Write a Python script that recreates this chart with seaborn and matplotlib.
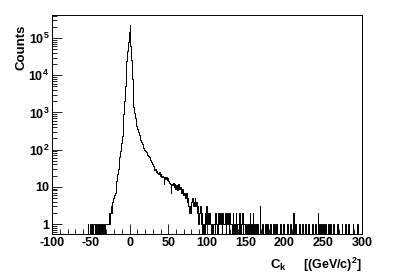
import numpy as np
import pandas as pd
import seaborn as sns
import matplotlib
matplotlib.use("Agg")
import matplotlib.pyplot as plt
from matplotlib.ticker import FixedLocator, MultipleLocator, LogLocator, NullFormatter

# 데이터: 1 단위 bin, 왼쪽 경계 기준 (C_k)
left_bins = [-54, -51, -49, -47, -46, -44, -42, -40, -38, -36, -34, -32, -31, -30]
left_counts = [1] * len(left_bins)

core_start = -29   # 이 값부터 1씩 증가하는 bin
core_counts = [
    1, 1, 2, 1, 2, 3, 2, 4, 5, 6,                     # -29 .. -20
    7, 11, 14, 22, 30, 42, 65, 95, 150, 240,          # -19 .. -10
    420, 900, 2100, 5000, 11000, 24000, 45000, 80000, 150000, 220000,  # -9 .. 0
    60000, 25000, 8000, 2500, 1400, 950, 700, 540, 440, 360,           # 1 .. 10
    300, 250, 210, 180, 160, 140, 125, 110, 100, 92,  # 11 .. 20
    85, 78, 72, 66, 62, 58, 52, 46, 40, 36,           # 21 .. 30
    32, 28, 30, 25, 27, 24, 22, 25, 20, 22,           # 31 .. 40
    19, 20, 18, 12, 19, 16, 18, 15, 17, 14,           # 41 .. 50
    13, 12, 7, 12, 11, 13, 10, 12, 9, 11,             # 51 .. 60
    8, 10, 12, 9, 10, 8, 7, 9, 6, 7,                  # 61 .. 70
    6, 5, 7, 4, 5, 3, 2, 3, 2, 4,                     # 71 .. 80
    5, 3, 4, 5, 3, 4, 2, 3, 1, 2,                     # 81 .. 90
    3, 1, 2, 0, 1, 0, 2, 1, 3, 1,                     # 91 .. 100
    2, 1, 2, 1, 0, 1, 0, 1, 1, 0,                     # 101 .. 110
    2, 1, 0, 2, 1, 2, 1, 2, 0, 2,                     # 111 .. 120
    1, 1, 2, 0, 1, 2, 1, 0, 2, 1,                     # 121 .. 130
    1, 0, 2, 1, 0, 1, 2, 0, 1, 1,                     # 131 .. 140
    0, 2, 0, 1, 2,                                    # 141 .. 145
]

tail_bins = [147, 148, 151, 153, 155, 156, 158, 159, 161, 163, 165, 168, 171, 175,
             178, 182, 185, 188, 190, 194, 198, 203, 204, 207, 211, 214, 219, 223,
             227, 231, 236, 240, 243, 245, 247, 250, 253, 256, 259, 263, 268, 274,
             278, 282, 288, 294]
tail_counts = [1, 1, 1, 1, 2, 1, 1, 2, 1, 1, 1, 3, 1, 1,
               1, 1, 1, 1, 1, 1, 1, 1, 1, 1, 2, 1, 1, 1,
               1, 1, 1, 1, 2, 1, 1, 1, 1, 1, 1, 1, 1, 1,
               1, 1, 1, 1]

# bin 표 만들기
edges = np.arange(-100, 301, 1)
counts = np.zeros(len(edges) - 1)
for b, c in zip(left_bins, left_counts):
    counts[b + 100] = c
for i, c in enumerate(core_counts):
    counts[core_start + i + 100] = c
for b, c in zip(tail_bins, tail_counts):
    counts[b + 100] = c
df = pd.DataFrame({'ck': edges[:-1] + 0.5, 'n': counts})

plt.rcParams['font.family'] = ['Liberation Sans', 'DejaVu Sans']
plt.rcParams['font.weight'] = 'bold'
plt.rcParams['axes.unicode_minus'] = False
plt.rcParams['mathtext.fontset'] = 'custom'
plt.rcParams['mathtext.rm'] = 'Liberation Sans:bold'
plt.rcParams['mathtext.bf'] = 'Liberation Sans:bold'
plt.rcParams['mathtext.it'] = 'Liberation Sans:bold'

fig = plt.figure(figsize=(4.07, 2.76), dpi=100)
ax = fig.add_axes([0.128, 0.152, 0.761, 0.794])
sns.histplot(data=df, x='ck', weights='n', binwidth=1, binrange=(-100, 300),
             element='step', fill=False, color='black', linewidth=0.7, ax=ax)
ax.set_yscale('log')
ax.set_xlim(-100, 300)
ax.set_ylim(0.54, 4.2e5)

# ROOT 스타일 눈금
ax.xaxis.set_major_locator(MultipleLocator(50))
ax.xaxis.set_minor_locator(MultipleLocator(10))
ax.yaxis.set_major_locator(FixedLocator([1, 10, 100, 1e3, 1e4, 1e5]))
ax.yaxis.set_minor_locator(LogLocator(base=10, subs=np.arange(2, 10), numticks=20))
ax.yaxis.set_minor_formatter(NullFormatter())
ax.set_yticklabels(['1', '10', r'$10^{2}$', r'$10^{3}$', r'$10^{4}$', r'$10^{5}$'])
ax.tick_params(which='both', direction='in', top=False, right=False,
               labelsize=9, width=0.6, pad=2)
ax.tick_params(which='major', length=7)
ax.tick_params(which='minor', length=3.5)
for s in ax.spines.values():
    s.set_linewidth(0.7)
    s.set_color('black')

ax.set_xlabel('')
ax.set_ylabel('')
fig.text(0.052, 0.909, 'Counts', rotation=90, ha='center', va='top',
         fontsize=9.5, fontweight='bold')
fig.text(0.684, 0.04, r'C$_{\mathregular{k}}$', ha='center', va='center',
         fontsize=9.5, fontweight='bold')
fig.text(0.889, 0.04, r'[(GeV/c)$^{\mathregular{2}}$]', ha='right', va='center',
         fontsize=9, fontweight='bold')

fig.savefig('out.png', dpi=100)
